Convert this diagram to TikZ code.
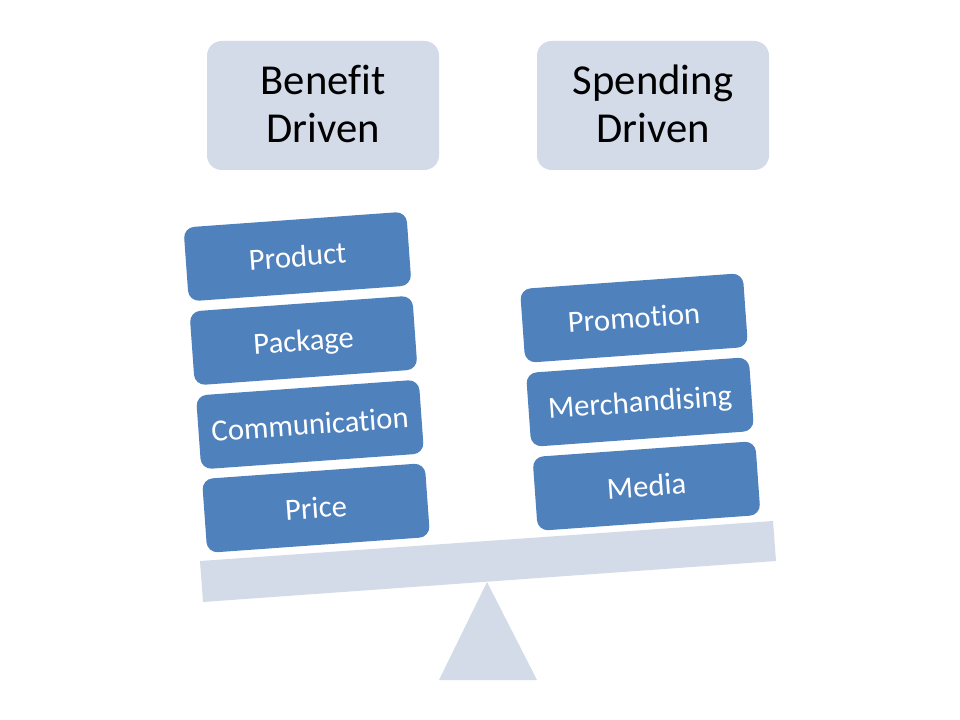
\documentclass[tikz,border=0pt]{standalone}
\usepackage{fontspec}
\setmainfont[Ligatures=CommonOff]{Carlito}
\definecolor{pale}{HTML}{D3DBE9}
\definecolor{steel}{HTML}{4F81BD}
\tikzset{
  header/.style={fill=pale,rounded corners=11pt,minimum width=174pt,minimum height=96.75pt,align=center,text=black,font=\fontsize{32}{36}\selectfont,inner sep=0pt,text depth=3pt},
  weight/.style={fill=steel,rounded corners=8pt,minimum width=167.5pt,minimum height=55.5pt,rotate=4.1,text=white,font=\fontsize{23}{27}\selectfont,inner sep=0pt,text height=18pt,text depth=2.7pt},
  support/.style={fill=pale,draw=none}
}
\begin{document}
\begin{tikzpicture}[x=0.75pt,y=-0.75pt]
\useasboundingbox (0,0) rectangle (960,720);
\fill[white] (0,0) rectangle (960,720);
\path[support] (200,561) -- (773,521) -- (776,561) -- (203,602) -- cycle;
\path[support] (487,582) -- (537,680) -- (439,680) -- cycle;
\node[header] (benefit) at (323,105.5) {Benefit\\Driven};
\node[header] (spending) at (653,105.5) {Spending\\Driven};
\node[weight] (product) at (297.5,256.5) {Product};
\node[weight] (package) at (303.5,340.5) {Package};
\node[weight] (communication) at (310,424.5) {Communication};
\node[weight] (price) at (316,508) {Price};
\node[weight] (promotion) at (634,318) {Promotion};
\node[weight] (merchandising) at (640,402) {Merchandising};
\node[weight] (media) at (646.5,486) {Media};
\end{tikzpicture}
\end{document}
